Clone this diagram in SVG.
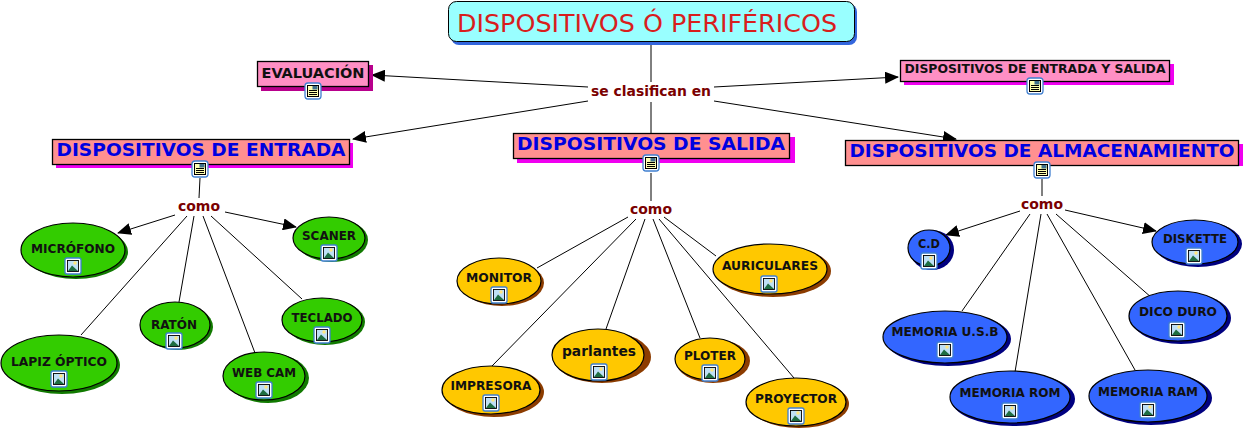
<svg xmlns="http://www.w3.org/2000/svg" width="1245" height="430" viewBox="0 0 1245 430">
<style>
text{font-family:"DejaVu Sans",Verdana,sans-serif;font-weight:bold;text-anchor:middle}
.k{font-size:12.500px;fill:#111}
.b{font-size:18.500px;fill:#0000e0}
.l{font-size:14px;fill:#7a0000}
.box{stroke:#000;stroke-width:1.3}
.e{stroke:#000;stroke-width:1.2}
.g{fill:#33cc00}.gs{fill:#117a00}
.y{fill:#ffc800}.ys{fill:#8c3c00}
.u{fill:#3366ff}.us{fill:#000080}
.c line{stroke:#000;stroke-width:1;fill:none}
</style>
<defs>
<marker id="a" viewBox="0 0 14 12" refX="13" refY="6" markerWidth="14" markerHeight="12" markerUnits="userSpaceOnUse" orient="auto"><path d="M0 0L14 6L0 12Z" fill="#000"/></marker>
<g id="doc"><rect x="-8" y="-8" width="16" height="16" rx="3" fill="#fff" stroke="#3f7fd0" stroke-width="1.300"/><rect x="-5.500" y="-5.500" width="11" height="11" fill="#ffffb0" stroke="#000"/><path d="M-4-.5h8M-4 1.500h8M-4 3.500h8" stroke="#000" stroke-width="1"/><rect x="-.5" y="-5" width="5" height="3.500" fill="#3f6f8c"/></g>
<g id="img"><rect x="-8" y="-8" width="16" height="16" rx="2" fill="#fff" stroke="#3f7fd0" stroke-width="1.300"/><rect x="-5.500" y="-5.500" width="11" height="11" fill="#bfe0f5" stroke="#000" stroke-width=".9"/><circle cx="2" cy="-3" r="1.700" fill="#ffe680"/><path d="M-5 5L-1 -.5L5 5Z" fill="#1f6e42"/></g>
</defs>
<g class="c" id="connectors">
<line x1="651" y1="44" x2="651" y2="82"/>
<line x1="651" y1="102" x2="651" y2="133"/>
<line x1="588" y1="87" x2="372" y2="75" marker-end="url(#a)"/>
<line x1="588" y1="101" x2="353" y2="139" marker-end="url(#a)"/>
<line x1="714" y1="87" x2="898" y2="77" marker-end="url(#a)"/>
<line x1="714" y1="101" x2="956" y2="139" marker-end="url(#a)"/>
<line x1="200" y1="178" x2="199" y2="198"/>
<line x1="175" y1="215" x2="118" y2="233" marker-end="url(#a)"/>
<line x1="225" y1="212" x2="296" y2="227" marker-end="url(#a)"/>
<line x1="187" y1="216" x2="81" y2="335"/>
<line x1="194" y1="216" x2="179" y2="302"/>
<line x1="203" y1="216" x2="255" y2="353"/>
<line x1="211" y1="216" x2="302" y2="299"/>
<line x1="651" y1="173" x2="651" y2="201"/>
<line x1="628" y1="217" x2="537" y2="268"/>
<line x1="636" y1="219" x2="492" y2="366"/>
<line x1="645" y1="219" x2="606" y2="329"/>
<line x1="653" y1="219" x2="700" y2="338"/>
<line x1="659" y1="219" x2="794" y2="378"/>
<line x1="664" y1="217" x2="716" y2="256"/>
<line x1="1042" y1="179" x2="1042" y2="196"/>
<line x1="1020" y1="211" x2="946" y2="235" marker-end="url(#a)"/>
<line x1="1065" y1="210" x2="1156" y2="231" marker-end="url(#a)"/>
<line x1="1030" y1="214" x2="962" y2="311"/>
<line x1="1041" y1="214" x2="1015" y2="372"/>
<line x1="1047" y1="214" x2="1135" y2="370"/>
<line x1="1056" y1="214" x2="1152" y2="298"/>
</g>
<g id="titulo"><rect x="451" y="4" width="406" height="41" rx="8" fill="#3366dd"/><rect x="448.500" y="1.500" width="406" height="40" rx="8" fill="#99ffff" stroke="#000" stroke-width="1"/><text x="647" y="32" style="font-weight:normal;font-size:25px;fill:#d81e1e" textLength="380" lengthAdjust="spacingAndGlyphs">DISPOSITIVOS Ó PERIFÉRICOS</text></g>
<g id="enlace1"><text class="l" x="651" y="96" textLength="120" lengthAdjust="spacingAndGlyphs">se clasifican en</text></g>
<g id="evaluacion"><rect x="261" y="65" width="112" height="26" fill="#b8008c"/><rect class="box" x="257.500" y="61.500" width="111" height="25" fill="#ff8fc4"/><text class="k" x="313" y="78" style="font-size:14px" textLength="103" lengthAdjust="spacingAndGlyphs">EVALUACIÓN</text><use href="#doc" x="313" y="91"/></g>
<g id="es"><rect x="904" y="64" width="270" height="21" fill="#f000f0"/><rect class="box" x="900.500" y="60.500" width="269" height="21" fill="#ff8fc4"/><text class="k" x="1035" y="73" textLength="261" lengthAdjust="spacingAndGlyphs">DISPOSITIVOS DE ENTRADA Y SALIDA</text><use href="#doc" x="1035" y="86"/></g>
<g id="entrada"><rect x="56" y="143" width="297" height="25" fill="#f000f0"/><rect class="box" x="52.500" y="139.500" width="297" height="25" fill="#ff9090"/><text class="b" x="201" y="156" textLength="289" lengthAdjust="spacingAndGlyphs">DISPOSITIVOS DE ENTRADA</text><use href="#doc" x="200" y="169"/></g>
<g id="salida"><rect x="517" y="137" width="278" height="26" fill="#f000f0"/><rect class="box" x="513.500" y="133.500" width="276" height="25" fill="#ff9090"/><text class="b" x="651" y="150" textLength="268" lengthAdjust="spacingAndGlyphs">DISPOSITIVOS DE SALIDA</text><use href="#doc" x="651" y="163"/></g>
<g id="almacenamiento"><rect x="850" y="144" width="393" height="22" fill="#f000f0"/><rect class="box" x="845.500" y="140.500" width="393" height="25" fill="#ff9090"/><text class="b" x="1042" y="157" textLength="385" lengthAdjust="spacingAndGlyphs">DISPOSITIVOS DE ALMACENAMIENTO</text><use href="#doc" x="1042" y="170"/></g>
<g id="como1"><text class="l" x="199" y="211" textLength="42" lengthAdjust="spacingAndGlyphs">como</text></g>
<g id="como2"><text class="l" x="651" y="214" textLength="42" lengthAdjust="spacingAndGlyphs">como</text></g>
<g id="como3"><text class="l" x="1042" y="209" textLength="42" lengthAdjust="spacingAndGlyphs">como</text></g>
<g id="microfono"><ellipse class="gs" cx="76" cy="252" rx="52" ry="27"/><ellipse class="g e" cx="73" cy="250" rx="52" ry="27"/><text class="k" x="73" y="253" textLength="84" lengthAdjust="spacingAndGlyphs">MICRÓFONO</text><use href="#img" x="73" y="266"/></g>
<g id="scaner"><ellipse class="gs" cx="332" cy="240" rx="36" ry="22"/><ellipse class="g e" cx="329" cy="238" rx="36" ry="21"/><text class="k" x="329" y="240" textLength="54" lengthAdjust="spacingAndGlyphs">SCANER</text><use href="#img" x="329" y="253"/></g>
<g id="lapiz"><ellipse class="gs" cx="62" cy="365" rx="58" ry="29"/><ellipse class="g e" cx="59" cy="363" rx="58" ry="28"/><text class="k" x="59" y="366" textLength="96" lengthAdjust="spacingAndGlyphs">LAPIZ ÓPTICO</text><use href="#img" x="59" y="379"/></g>
<g id="raton"><ellipse class="gs" cx="178" cy="327" rx="35" ry="23"/><ellipse class="g e" cx="175" cy="325" rx="35" ry="23"/><text class="k" x="174" y="329" textLength="46" lengthAdjust="spacingAndGlyphs">RATÓN</text><use href="#img" x="174" y="341"/></g>
<g id="webcam"><ellipse class="gs" cx="268" cy="378" rx="41" ry="25"/><ellipse class="g e" cx="264" cy="376" rx="41" ry="24"/><text class="k" x="264" y="377" textLength="64" lengthAdjust="spacingAndGlyphs">WEB CAM</text><use href="#img" x="264" y="390"/></g>
<g id="teclado"><ellipse class="gs" cx="325" cy="322" rx="40" ry="23"/><ellipse class="g e" cx="322" cy="320" rx="40" ry="22"/><text class="k" x="322" y="322" textLength="61" lengthAdjust="spacingAndGlyphs">TECLADO</text><use href="#img" x="322" y="335"/></g>
<g id="monitor"><ellipse class="ys" cx="502" cy="283" rx="42" ry="23"/><ellipse class="y e" cx="499" cy="281" rx="42" ry="23"/><text class="k" x="499" y="282" textLength="66" lengthAdjust="spacingAndGlyphs">MONITOR</text><use href="#img" x="499" y="295"/></g>
<g id="auriculares"><ellipse class="ys" cx="773" cy="271" rx="58" ry="26"/><ellipse class="y e" cx="770" cy="269" rx="57" ry="25"/><text class="k" x="770" y="270" textLength="96" lengthAdjust="spacingAndGlyphs">AURICULARES</text><use href="#img" x="769" y="284"/></g>
<g id="impresora"><ellipse class="ys" cx="494" cy="392" rx="50" ry="25"/><ellipse class="y e" cx="491" cy="390" rx="49" ry="24"/><text class="k" x="491" y="390" textLength="81" lengthAdjust="spacingAndGlyphs">IMPRESORA</text><use href="#img" x="491" y="403"/></g>
<g id="parlantes"><ellipse class="ys" cx="602" cy="357" rx="49" ry="26"/><ellipse class="y e" cx="598" cy="355" rx="46" ry="26"/><text class="k" x="599" y="356" style="font-size:14.500px" textLength="74" lengthAdjust="spacingAndGlyphs">parlantes</text><use href="#img" x="599" y="372"/></g>
<g id="ploter"><ellipse class="ys" cx="713" cy="361" rx="37" ry="22"/><ellipse class="y e" cx="710" cy="359" rx="35" ry="21"/><text class="k" x="710" y="360" textLength="52" lengthAdjust="spacingAndGlyphs">PLOTER</text><use href="#img" x="710" y="373"/></g>
<g id="proyector"><ellipse class="ys" cx="799" cy="404" rx="50" ry="24"/><ellipse class="y e" cx="796" cy="402" rx="50" ry="24"/><text class="k" x="796" y="403" textLength="82" lengthAdjust="spacingAndGlyphs">PROYECTOR</text><use href="#img" x="796" y="416"/></g>
<g id="cd"><ellipse class="us" cx="932" cy="250" rx="22" ry="20"/><ellipse class="u e" cx="929" cy="248" rx="21" ry="18"/><text class="k" x="929" y="248" textLength="22" lengthAdjust="spacingAndGlyphs">C.D</text><use href="#img" x="929" y="261"/></g>
<g id="diskette"><ellipse class="us" cx="1198" cy="244" rx="44" ry="23"/><ellipse class="u e" cx="1195" cy="242" rx="43" ry="22"/><text class="k" x="1195" y="243" textLength="64" lengthAdjust="spacingAndGlyphs">DISKETTE</text><use href="#img" x="1194" y="256"/></g>
<g id="usb"><ellipse class="us" cx="948" cy="339" rx="63" ry="27"/><ellipse class="u e" cx="945" cy="337" rx="62" ry="26"/><text class="k" x="945" y="336" textLength="107" lengthAdjust="spacingAndGlyphs">MEMORIA U.S.B</text><use href="#img" x="945" y="350"/></g>
<g id="duro"><ellipse class="us" cx="1181" cy="318" rx="50" ry="26"/><ellipse class="u e" cx="1178" cy="316" rx="49" ry="25"/><text class="k" x="1178" y="316" textLength="78" lengthAdjust="spacingAndGlyphs">DICO DURO</text><use href="#img" x="1177" y="330"/></g>
<g id="rom"><ellipse class="us" cx="1013" cy="399" rx="62" ry="27"/><ellipse class="u e" cx="1010" cy="397" rx="60" ry="26"/><text class="k" x="1010" y="397" textLength="101" lengthAdjust="spacingAndGlyphs">MEMORIA ROM</text><use href="#img" x="1010" y="411"/></g>
<g id="ram"><ellipse class="us" cx="1151" cy="398" rx="61" ry="27"/><ellipse class="u e" cx="1148" cy="396" rx="59" ry="26"/><text class="k" x="1148" y="396" textLength="100" lengthAdjust="spacingAndGlyphs">MEMORIA RAM</text><use href="#img" x="1148" y="410"/></g>
</svg>
